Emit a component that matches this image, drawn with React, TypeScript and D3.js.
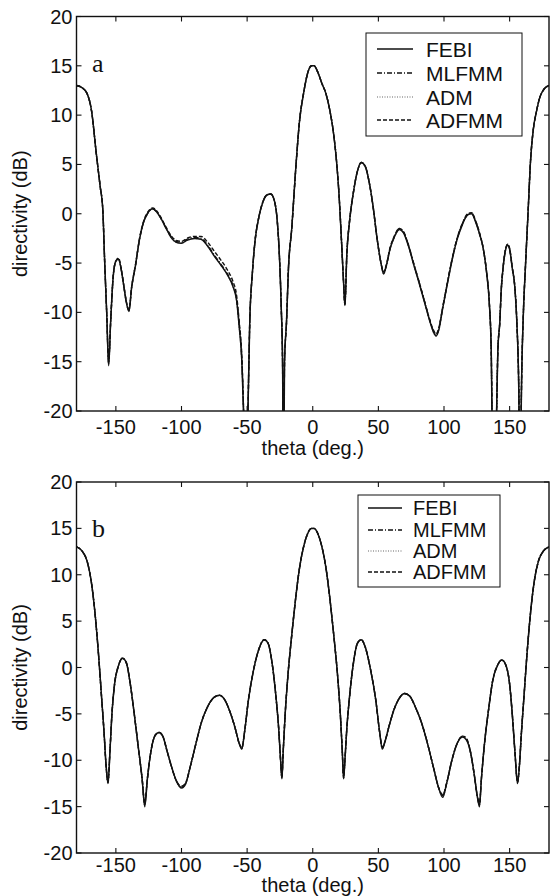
import React from "react";
import * as d3 from "d3";

const X_TICKS = [-150, -100, -50, 0, 50, 100, 150];
const Y_TICKS = [20, 15, 10, 5, 0, -5, -10, -15, -20];
const SERIES_NAMES = ["FEBI", "MLFMM", "ADM", "ADFMM"];

// ---------- Panel a ----------
const thetaA = [
  -180, -176, -172, -168.5, -165, -162, -160, -158.5, -157, -155.5, -154, -152, -150, -148, -146, -144, -142, -140,
  -138, -135, -132, -129, -126, -122, -119, -116, -112, -108, -104, -100, -96, -90, -85, -80, -75, -70, -65, -61,
  -58, -56, -54, -52.5, -51, -49.5, -48, -46, -44, -41, -38, -35, -32, -29, -27, -25.5, -24, -23, -22.3, -21.5,
  -20, -18.5, -16, -13, -10, -7, -4, -1, 1, 4, 7, 10, 13, 16, 18, 20, 22, 23.5, 24.5, 26, 28, 31, 34, 37, 40, 43,
  46, 49, 52, 54, 56, 59, 62, 66, 69, 73, 77, 81, 85, 89, 92, 94, 96, 99, 102, 106, 110, 114, 118, 121, 124, 127,
  130, 132.5, 134.5, 136, 137, 138, 139, 140, 141, 142.6, 143.5, 145, 147, 148.5, 150, 152, 154, 155.5, 157, 158,
  159, 160.5, 162, 164, 166, 168, 170.5, 173, 176, 180,
];
const febiA = [
  13.0, 12.8, 12.2, 10.4, 6.2, 2.8, 0.5, -5, -10, -15.4, -11, -6.3, -4.8, -4.6, -5.6, -7.3, -9.0, -9.9,
  -7.5, -5.2, -2.6, -0.9, 0.0, 0.5, 0.2, -0.4, -1.4, -2.4, -2.9, -3.0, -2.7, -2.5, -2.6, -3.3, -4.3, -5.2, -6.2, -7.3,
  -8.8, -11.5, -15, -21, -30, -21, -11, -6, -2.8, -0.3, 1.2, 1.9, 2.0, 1.2, -0.8, -4, -9.5, -15, -30, -15,
  -11, -5.5, -1.5, 4.5, 9.5, 12.2, 14.2, 15.0, 15.0, 14.3, 13.2, 12.2, 10.5, 8.0, 5.5, 2, -3, -7, -9.3, -4, -0.8, 2.2, 4.3, 5.2, 4.8, 3.2,
  0.7, -2.5, -5.0, -6.1, -5.3, -3.5, -2.4, -1.6, -1.9, -3.3, -5.2, -7.0, -8.9, -10.8, -12.0, -12.4, -11.8, -9.6, -7.5, -4.8, -2.6, -1.1, -0.1, 0.0, -0.8, -2.0,
  -3.6, -6.0, -9, -14, -25, -30, -25, -20.5, -14, -10.8, -8, -5.5, -3.6, -3.2, -3.6, -5.5, -7.5, -11, -18, -30,
  -18, -10, -5.5, 0, 5.5, 8.5, 10.4, 11.8, 12.6, 13.0,
];
const mlfmmA = [
  13.0, 12.8, 12.2, 10.4, 6.2, 2.8, 0.5, -5, -10, -15.2, -11, -6.3, -4.8, -4.6, -5.6, -7.3, -9.0, -9.8,
  -7.5, -5.2, -2.6, -0.9, 0.0, 0.5, 0.2, -0.4, -1.4, -2.3, -2.8, -2.9, -2.6, -2.4, -2.5, -3.2, -4.2, -5.1, -6.1, -7.2,
  -8.7, -11.3, -15, -21, -30, -21, -11, -6, -2.8, -0.3, 1.2, 1.9, 2.0, 1.2, -0.8, -4, -9.5, -15, -30, -15,
  -11, -5.5, -1.5, 4.5, 9.5, 12.2, 14.2, 15.0, 15.0, 14.3, 13.2, 12.2, 10.5, 8.0, 5.5, 2, -3, -7, -9.2, -4, -0.8, 2.2, 4.3, 5.2, 4.8, 3.2,
  0.7, -2.5, -5.0, -6.0, -5.3, -3.5, -2.4, -1.5, -1.8, -3.2, -5.1, -6.9, -8.8, -10.7, -11.9, -12.3, -11.7, -9.5, -7.4, -4.7, -2.5, -1.0, -0.1, 0.1, -0.7, -2.0,
  -3.6, -6.0, -9, -14, -25, -30, -25, -20.5, -14, -10.8, -8, -5.5, -3.6, -3.1, -3.6, -5.5, -7.5, -11, -18, -30,
  -18, -10, -5.5, 0, 5.5, 8.5, 10.4, 11.8, 12.6, 13.0,
];
const admA = [
  13.0, 12.8, 12.2, 10.4, 6.2, 2.8, 0.5, -5, -10, -15.3, -11, -6.3, -4.8, -4.6, -5.6, -7.3, -9.0, -9.9,
  -7.5, -5.2, -2.6, -0.9, 0.0, 0.5, 0.2, -0.4, -1.4, -2.4, -2.9, -3.0, -2.7, -2.5, -2.6, -3.3, -4.3, -5.2, -6.2, -7.3,
  -8.8, -11.5, -15, -21, -30, -21, -11, -6, -2.8, -0.3, 1.2, 1.9, 2.0, 1.2, -0.8, -4, -9.5, -15, -30, -15,
  -11, -5.5, -1.5, 4.5, 9.5, 12.2, 14.2, 15.0, 15.0, 14.3, 13.2, 12.2, 10.5, 8.0, 5.5, 2, -3, -7, -9.3, -4, -0.8, 2.2, 4.3, 5.2, 4.8, 3.2,
  0.7, -2.5, -5.0, -6.1, -5.3, -3.5, -2.4, -1.6, -1.9, -3.3, -5.2, -7.0, -8.9, -10.8, -12.0, -12.4, -11.8, -9.6, -7.5, -4.8, -2.6, -1.1, -0.1, 0.0, -0.8, -2.0,
  -3.6, -6.0, -9, -14, -25, -30, -25, -20.5, -14, -10.8, -8, -5.5, -3.6, -3.2, -3.6, -5.5, -7.5, -11, -18, -30,
  -18, -10, -5.5, 0, 5.5, 8.5, 10.4, 11.8, 12.6, 13.0,
];
const adfmmA = [
  13.0, 12.8, 12.2, 10.4, 6.2, 2.8, 0.5, -5, -10, -15.0, -11, -6.3, -4.8, -4.5, -5.5, -7.2, -8.9, -9.7,
  -7.4, -5.1, -2.5, -0.8, 0.1, 0.6, 0.3, -0.3, -1.3, -2.2, -2.7, -2.8, -2.5, -2.3, -2.3, -2.9, -3.8, -4.7, -5.7, -6.8,
  -8.3, -11.0, -14.5, -21, -30, -21, -11, -6, -2.8, -0.3, 1.2, 1.9, 2.0, 1.2, -0.8, -4, -9.5, -15, -30, -15,
  -11, -5.5, -1.5, 4.5, 9.5, 12.2, 14.2, 15.0, 15.0, 14.3, 13.2, 12.2, 10.5, 8.0, 5.5, 2, -3, -7, -9.2, -4, -0.8, 2.2, 4.3, 5.2, 4.8, 3.2,
  0.7, -2.5, -5.0, -5.9, -5.2, -3.4, -2.3, -1.5, -1.8, -3.2, -5.1, -6.9, -8.8, -10.7, -11.8, -12.2, -11.6, -9.5, -7.4, -4.7, -2.5, -1.0, 0.0, 0.1, -0.7, -1.9,
  -3.6, -6.0, -9, -14, -25, -30, -25, -20.5, -14, -10.8, -8, -5.5, -3.5, -3.1, -3.5, -5.4, -7.5, -11, -18, -30,
  -18, -10, -5.5, 0, 5.5, 8.5, 10.4, 11.8, 12.6, 13.0,
];

// ---------- Panel b ----------
const thetaB = [
  -180, -176, -172, -169, -166, -163, -161, -159, -157.5, -156, -154.5, -153, -151, -148, -145, -142, -139, -136,
  -133, -130, -128, -126, -123, -120, -117, -114, -111, -108, -104, -100, -97, -93, -89, -85, -80, -75, -71, -67,
  -63, -59, -56, -54, -52, -49, -45, -41, -37, -34, -31, -28, -26, -24.5, -23.5, -22.5, -21, -19, -16, -13, -10,
  -7, -4, -1, 1, 4, 7, 10, 13, 16, 19, 21, 22.5, 23.5, 24.5, 26, 28, 31, 34, 37, 40, 44, 48, 51, 53, 55, 58, 62,
  66, 70, 74, 78, 83, 88, 92, 96, 99, 102, 106, 110, 114, 117, 120, 123, 125.5, 127, 128.5, 131, 134, 137, 141,
  144, 147, 150, 152, 154, 156, 157.5, 159, 161, 163, 166, 169, 172, 176, 180,
];
const febiB = [
  13, 12.6, 11.5, 9.5, 6, 1, -3, -7, -10.5, -12.5, -9, -5, -1.8, 0.2, 1.0, 0.5, -1.8, -5,
  -8.5, -12, -15, -12, -8.8, -7.3, -7.0, -7.5, -9, -10.5, -12.2, -13.0, -12.6, -10.5, -8.2, -6, -4.2, -3.2, -3.0, -3.5,
  -4.8, -6.6, -8.2, -8.8, -7, -3.5, -0.2, 2, 3, 2.6, 0.5, -3.2, -6.5, -10, -12, -9, -5, -1, 3.5, 7.5, 10.8,
  13, 14.4, 15.0, 15.0, 14.4, 13, 10.8, 7.5, 3.5, -1, -5, -9, -12, -10, -6.5, -3.2, 0.5, 2.6, 3, 2.2, -0.2, -3.5, -7, -8.8, -8, -6.4, -4.5,
  -3.3, -2.8, -3.1, -4.2, -6, -8.5, -10.8, -13, -14, -12.5, -10, -8.2, -7.5, -7.8, -9, -11.5, -14, -15, -12, -8, -4.5, -1.5, 0.3,
  0.8, 0.3, -1.8, -5, -9, -12.5, -10.5, -7, -3, 1, 6, 9.5, 11.5, 12.6, 13,
];
const mlfmmB = [
  13, 12.6, 11.5, 9.5, 6, 1, -3, -7, -10.5, -12.3, -9, -5, -1.8, 0.2, 1.0, 0.5, -1.8, -5,
  -8.5, -12, -14.7, -12, -8.8, -7.3, -7.0, -7.5, -9, -10.5, -12.2, -12.9, -12.5, -10.5, -8.2, -6, -4.2, -3.2, -3.0, -3.5,
  -4.8, -6.6, -8.2, -8.7, -7, -3.5, -0.2, 2, 3, 2.6, 0.5, -3.2, -6.5, -10, -11.8, -9, -5, -1, 3.5, 7.5, 10.8,
  13, 14.4, 15.0, 15.0, 14.4, 13, 10.8, 7.5, 3.5, -1, -5, -9, -11.8, -10, -6.5, -3.2, 0.5, 2.6, 3, 2.2, -0.2, -3.5, -7, -8.7, -8, -6.4, -4.5,
  -3.3, -2.8, -3.1, -4.2, -6, -8.5, -10.8, -13, -13.8, -12.5, -10, -8.2, -7.4, -7.7, -9, -11.5, -14, -14.8, -12, -8, -4.5, -1.5, 0.3,
  0.8, 0.3, -1.8, -5, -9, -12.3, -10.5, -7, -3, 1, 6, 9.5, 11.5, 12.6, 13,
];
const admB = [
  13, 12.6, 11.5, 9.5, 6, 1, -3, -7, -10.5, -12.5, -9, -5, -1.8, 0.2, 1.0, 0.5, -1.8, -5,
  -8.5, -12, -15, -12, -8.8, -7.3, -7.0, -7.5, -9, -10.5, -12.2, -13.0, -12.6, -10.5, -8.2, -6, -4.2, -3.2, -3.0, -3.5,
  -4.8, -6.6, -8.2, -8.8, -7, -3.5, -0.2, 2, 3, 2.6, 0.5, -3.2, -6.5, -10, -12, -9, -5, -1, 3.5, 7.5, 10.8,
  13, 14.4, 15.0, 15.0, 14.4, 13, 10.8, 7.5, 3.5, -1, -5, -9, -12, -10, -6.5, -3.2, 0.5, 2.6, 3, 2.2, -0.2, -3.5, -7, -8.8, -8, -6.4, -4.5,
  -3.3, -2.8, -3.1, -4.2, -6, -8.5, -10.8, -13, -14, -12.5, -10, -8.2, -7.5, -7.8, -9, -11.5, -14, -15, -12, -8, -4.5, -1.5, 0.3,
  0.8, 0.3, -1.8, -5, -9, -12.5, -10.5, -7, -3, 1, 6, 9.5, 11.5, 12.6, 13,
];
const adfmmB = [
  13, 12.6, 11.5, 9.5, 6, 1, -3, -7, -10.5, -12.4, -9, -5, -1.8, 0.2, 1.0, 0.5, -1.8, -5,
  -8.5, -12, -14.6, -12, -8.8, -7.3, -7.0, -7.5, -9, -10.5, -12.2, -12.8, -12.5, -10.5, -8.2, -6, -4.2, -3.2, -3.0, -3.5,
  -4.8, -6.6, -8.2, -8.6, -7, -3.5, -0.2, 2, 3, 2.6, 0.5, -3.2, -6.5, -10, -11.9, -9, -5, -1, 3.5, 7.5, 10.8,
  13, 14.4, 15.0, 15.0, 14.4, 13, 10.8, 7.5, 3.5, -1, -5, -9, -11.9, -10, -6.5, -3.2, 0.5, 2.6, 3, 2.2, -0.2, -3.5, -7, -8.6, -8, -6.4, -4.5,
  -3.3, -2.8, -3.1, -4.2, -6, -8.5, -10.8, -13, -13.7, -12.5, -10, -8.2, -7.4, -7.6, -9, -11.5, -14, -14.6, -12, -8, -4.5, -1.5, 0.3,
  0.8, 0.3, -1.8, -5, -9, -12.4, -10.5, -7, -3, 1, 6, 9.5, 11.5, 12.6, 13,
];

const STYLES = [
  { stroke: "#111", dash: "none", width: 1.5 },
  { stroke: "#111", dash: "5,2,1,2", width: 1.4 },
  { stroke: "#999", dash: "1,1.5", width: 1.4 },
  { stroke: "#111", dash: "4,2", width: 1.4 },
];

const FONT = "Liberation Sans, Arial, sans-serif";
const FS = 20;

type PanelProps = {
  id: string;
  letter: string;
  top: number;
  bottom: number;
  theta: number[];
  series: number[][];
  legend: { x0: number; x1: number; y0: number; y1: number; textX: number; rows: number[]; lx0: number; lx1: number; fs: number };
  tickBase: number;
  titleBase: number;
  letterY: number;
};

function Panel(p: PanelProps) {
  const left = 76.5;
  const right = 549;
  const x = d3.scaleLinear().domain([-180, 180]).range([left, right]);
  const y = d3.scaleLinear().domain([-20, 20]).range([p.bottom, p.top]);
  const line = d3
    .line<[number, number]>()
    .x((d) => x(d[0]))
    .y((d) => y(d[1]))
    .curve(d3.curveMonotoneX);
  const tl = 5;
  const order = [2, 3, 1, 0];
  return (
    <g>
      <defs>
        <clipPath id={"clip" + p.id}>
          <rect x={left} y={p.top} width={right - left} height={p.bottom - p.top} />
        </clipPath>
      </defs>
      <g clipPath={`url(#clip${p.id})`}>
        {order.map((si) => {
          const pts: [number, number][] = p.theta.map((t, i) => [t, p.series[si][i]]);
          const s = STYLES[si];
          return (
            <path
              key={si}
              d={line(pts) || ""}
              fill="none"
              stroke={s.stroke}
              strokeWidth={s.width}
              strokeDasharray={s.dash}
              strokeLinejoin="round"
            />
          );
        })}
      </g>
      <rect x={left} y={p.top} width={right - left} height={p.bottom - p.top} fill="none" stroke="#111" strokeWidth={1.4} />
      {X_TICKS.map((t) => (
        <g key={"x" + t}>
          <line x1={x(t)} x2={x(t)} y1={p.bottom} y2={p.bottom - tl} stroke="#111" strokeWidth={1.1} />
          <line x1={x(t)} x2={x(t)} y1={p.top} y2={p.top + tl} stroke="#111" strokeWidth={1.1} />
          <text x={x(t)} y={p.tickBase} textAnchor="middle" fontSize={FS} fontFamily={FONT} fill="#111">
            {t}
          </text>
        </g>
      ))}
      {Y_TICKS.map((t) => (
        <g key={"y" + t}>
          <line x1={left} x2={left + tl} y1={y(t)} y2={y(t)} stroke="#111" strokeWidth={1.1} />
          <line x1={right} x2={right - tl} y1={y(t)} y2={y(t)} stroke="#111" strokeWidth={1.1} />
          <text x={left - 4} y={y(t) + 7} textAnchor="end" fontSize={FS} fontFamily={FONT} fill="#111">
            {t}
          </text>
        </g>
      ))}
      <text x={(left + right) / 2} y={p.titleBase} textAnchor="middle" fontSize={FS} fontFamily={FONT} fill="#111">
        theta (deg.)
      </text>
      <text
        transform={`translate(27,${(p.top + p.bottom) / 2}) rotate(-90)`}
        textAnchor="middle"
        fontSize={FS}
        fontFamily={FONT}
        fill="#111"
      >
        directivity (dB)
      </text>
      <text x={92} y={p.letterY} fontSize={26} fontFamily="Liberation Serif, Times New Roman, serif" fill="#111">
        {p.letter}
      </text>
      <rect
        x={p.legend.x0}
        y={p.legend.y0}
        width={p.legend.x1 - p.legend.x0}
        height={p.legend.y1 - p.legend.y0}
        fill="#fff"
        stroke="#111"
        strokeWidth={1}
      />
      {SERIES_NAMES.map((n, i) => {
        const s = STYLES[i];
        const cy = p.legend.rows[i];
        return (
          <g key={n}>
            <line
              x1={p.legend.lx0}
              x2={p.legend.lx1}
              y1={cy}
              y2={cy}
              stroke={s.stroke}
              strokeWidth={s.width}
              strokeDasharray={s.dash}
            />
            <text x={p.legend.textX} y={cy + p.legend.fs * 0.36} fontSize={p.legend.fs} fontFamily={FONT} fill="#111">
              {n}
            </text>
          </g>
        );
      })}
    </g>
  );
}

export default function App() {
  return (
    <svg width={554} height={896} style={{ position: "absolute", left: 0, top: 0, background: "#fff" }}>
      <rect x={0} y={0} width={554} height={896} fill="#fff" />
      <Panel
        id="a"
        letter="a"
        top={16.5}
        bottom={411}
        theta={thetaA}
        series={[febiA, mlfmmA, admA, adfmmA]}
        legend={{ x0: 366, x1: 522, y0: 33, y1: 136, textX: 426, rows: [49, 73, 97, 120], lx0: 377, lx1: 413, fs: 21 }}
        tickBase={434}
        titleBase={455}
        letterY={72}
      />
      <Panel
        id="b"
        letter="b"
        top={482}
        bottom={853}
        theta={thetaB}
        series={[febiB, mlfmmB, admB, adfmmB]}
        legend={{ x0: 358, x1: 500, y0: 495, y1: 587, textX: 413, rows: [508, 530, 551, 572], lx0: 368, lx1: 402, fs: 20 }}
        tickBase={872}
        titleBase={892}
        letterY={537}
      />
    </svg>
  );
}
